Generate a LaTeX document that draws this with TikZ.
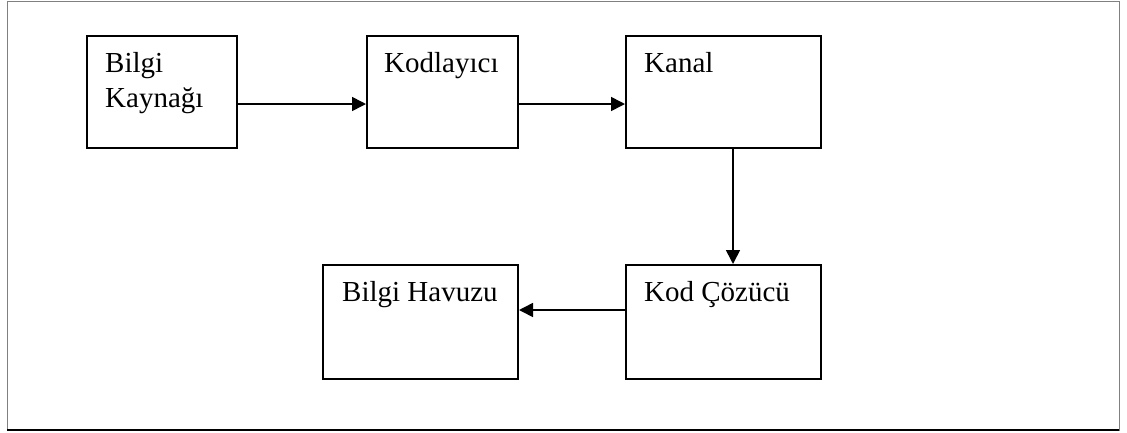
\documentclass[tikz,border=0pt]{standalone}
\usepackage{fontspec}
\setmainfont{Liberation Serif}
\usetikzlibrary{arrows.meta}
\begin{document}
\begin{tikzpicture}[x=1pt,y=-1pt,
  box/.style={draw, line width=2pt, inner sep=0pt},
  lbl/.style={inner sep=0pt, anchor=base west, align=left,
    font=\fontsize{29}{35}\selectfont},
  conn/.style={line width=1.6pt, -{Triangle[length=14pt,width=14pt]}}]
  % page and outer frame
  \useasboundingbox (0,0) rectangle (1127,432);
  \draw[gray, line width=1pt] (7,1) rectangle (1119,430);
  \draw[black, line width=1.2pt] (7,430) -- (1119,430);
  % blocks
  \node[box, minimum width=150pt, minimum height=112pt] (src) at (162,92) {};
  \node[box, minimum width=151pt, minimum height=112pt] (enc) at (442.5,92) {};
  \node[box, minimum width=195pt, minimum height=112pt] (chn) at (723.5,92) {};
  \node[box, minimum width=195pt, minimum height=114pt] (dec) at (723.5,322) {};
  \node[box, minimum width=195pt, minimum height=114pt] (snk) at (420.5,322) {};
  % block titles (a two-line node sits on its last baseline)
  \node[lbl] (srct) at ([xshift=19pt,yshift=-72pt]src.north west) {Bilgi\\Kaynağı};
  \node[lbl] (enct) at ([xshift=18pt,yshift=-37pt]enc.north west) {Kodlayıcı};
  \node[lbl] (chnt) at ([xshift=19pt,yshift=-37pt]chn.north west) {Kanal};
  \node[lbl] (dect) at ([xshift=19pt,yshift=-37pt]dec.north west) {Kod Çözücü};
  \node[lbl] (snkt) at ([xshift=20pt,yshift=-37pt]snk.north west) {Bilgi Havuzu};
  % signal flow
  \draw[conn] ([yshift=-12pt]src.east) -- ([yshift=-12pt]enc.west);
  \draw[conn] ([yshift=-12pt]enc.east) -- ([yshift=-12pt]chn.west);
  \draw[conn] ([xshift=9.5pt]chn.south) -- ([xshift=9.5pt]dec.north);
  \draw[conn] ([yshift=12pt]dec.west) -- ([yshift=12pt]snk.east);
\end{tikzpicture}
\end{document}
